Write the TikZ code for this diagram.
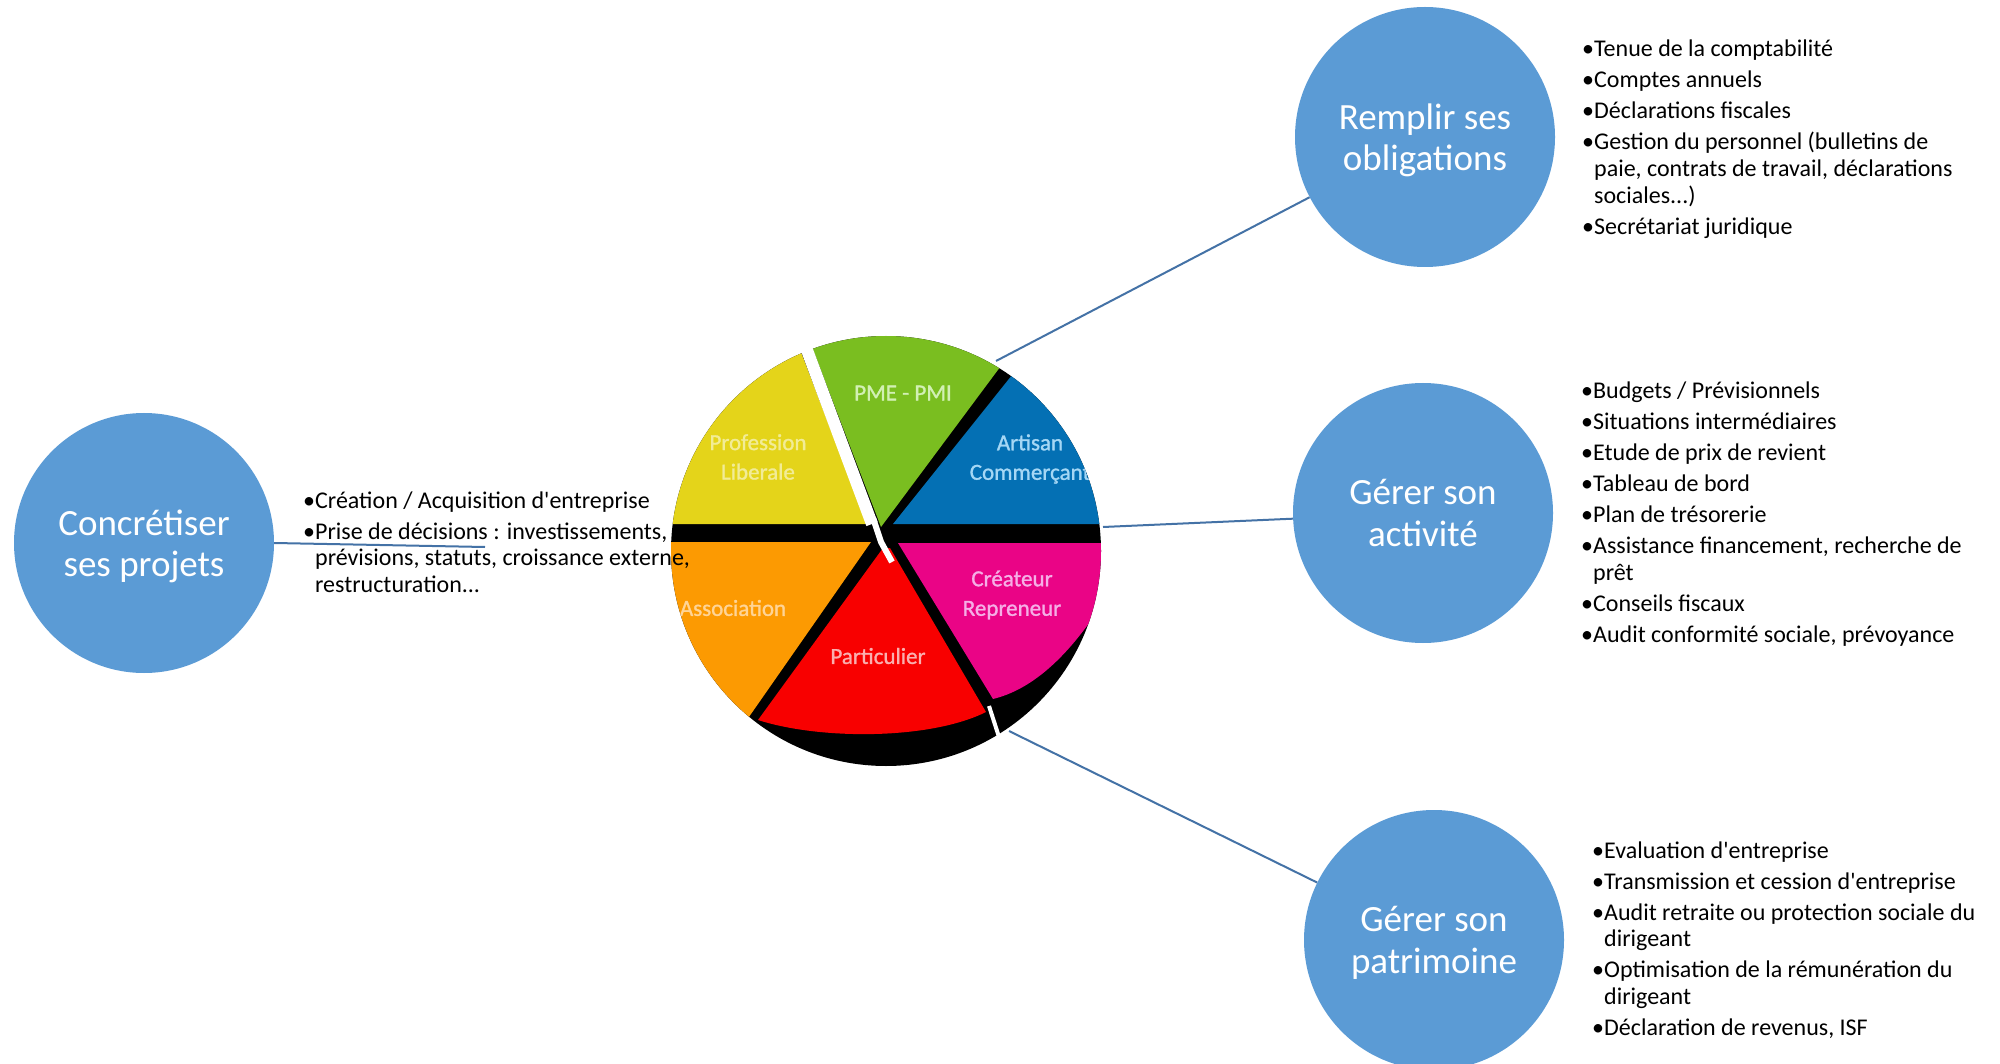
\documentclass[tikz,border=0pt]{standalone}
\usepackage{fontspec}
\setmainfont{Carlito}
\newfontfamily\calfont{Carlito}
\newfontfamily\labfont{Carlito}[FakeBold=1.2]
\definecolor{circblue}{RGB}{91,155,213}
\definecolor{linkblue}{RGB}{68,114,166}
\definecolor{pyellow}{RGB}{228,212,26}
\definecolor{pgreen}{RGB}{122,190,32}
\definecolor{pblue}{RGB}{4,112,180}
\definecolor{ppink}{RGB}{234,4,134}
\definecolor{pred}{RGB}{248,0,0}
\definecolor{porange}{RGB}{252,154,2}
\definecolor{lyellow}{RGB}{242,236,150}
\definecolor{lgreen}{RGB}{210,240,180}
\definecolor{lblue}{RGB}{165,215,245}
\definecolor{lpink}{RGB}{245,175,230}
\definecolor{lred}{RGB}{250,175,175}
\definecolor{lorange}{RGB}{255,212,150}
\newcommand\nodepth[1]{\raisebox{0pt}[\height][0pt]{#1}}
\begin{document}
\begin{tikzpicture}[x=1pt,y=-1pt,
  bigcirc/.style={circle, fill=circblue, minimum size=260pt, inner sep=0pt, text=white, align=center, font=\calfont\fontsize{37}{41.5}\selectfont},
  link/.style={draw=linkblue, line width=2pt},
  itemlist/.style={anchor=base west, inner sep=0pt, font=\calfont\fontsize{24}{26.7}\selectfont},
  slicelabel/.style={align=center, inner sep=0pt, font=\labfont\fontsize{23}{29.5}\selectfont}]
\clip (0,0) rectangle (2000,1064);
\fill[white] (0,0) rectangle (2000,1064);

% circles
\node[bigcirc] (proj)  at (144,543) {Concrétiser\\\nodepth{ses projets}};
\node[bigcirc] (oblig) at (1425,137) {Remplir ses\\\nodepth{obligations}};
\node[bigcirc] (activ) at (1423,513) {Gérer son\\\nodepth{activité}};
\node[bigcirc] (patri) at (1434,940) {Gérer son\\\nodepth{patrimoine}};

% connector end points at the pie
\coordinate (pieTL) at (996,361);
\coordinate (pieR)  at (1103,527);
\coordinate (pieBR) at (1009,731);
\coordinate (lend)  at (485,547);

\draw[link] (proj.east) -- (lend);
\draw[link] (pieTL) -- (oblig);
\draw[link] (pieR) -- (activ);
\draw[link] (pieBR) -- (patri);

% pie
\coordinate (pc) at (886,551);
\fill[black] (pc) circle[radius=215];
\begin{scope}
  \clip (pc) circle[radius=215];
  \fill[pyellow] (600,524) -- (867,524) -- (781,300) -- (600,300) -- cycle;
  \fill[pgreen] (794,300) -- (881,527) -- (1050,300) -- cycle;
  \fill[pblue] (893,524) -- (1072,300) -- (1150,300) -- (1150,524) -- cycle;
  \fill[ppink] (898,543) -- (1150,543) -- (1150,605) -- (1098,610)
     .. controls (1065,660) and (1030,690) .. (993,699) -- cycle;
  \fill[pred] (883,548) -- (890,548) -- (986,712)
     .. controls (930,740) and (820,740) .. (758,720) -- cycle;
  \fill[porange] (600,542) -- (871,542) -- (691,800) -- (600,800) -- cycle;
  \node[slicelabel, text=lgreen]  (lpme)  at (903,393) {PME - PMI};
  \node[slicelabel, text=lyellow] (lprof) at (758,457) {Profession\\Liberale};
  \node[slicelabel, text=lblue]   (lart)  at (1030,459) {Artisan\\Commerçant};
  \node[slicelabel, text=lpink]   (lcre)  at (1012,595) {Créateur\\Repreneur};
  \node[slicelabel, text=lorange] (lass)  at (733,608) {Association};
  \node[slicelabel, text=lred]    (lpar)  at (878,656) {Particulier};
\end{scope}
\draw[white, line width=12pt] (798,326) -- (872,524);
\draw[white, line width=6pt] (873,518) -- (881,542) -- (892,562);
\draw[white, line width=4pt] (989,706) -- (999,737);

% lists
\node[itemlist] (lst0) at (303,508) {\begin{tabular}[t]{@{}l@{}l@{}}
•&Création / Acquisition d'entreprise\\[4.3pt]
•&Prise de décisions : investissements,\\
&prévisions, statuts, croissance externe,\\
&restructuration...
\end{tabular}};

\node[itemlist] (lst1) at (1582,57) {\begin{tabular}[t]{@{}l@{}l@{}}
•&Tenue de la comptabilité\\[4.3pt]
•&Comptes annuels\\[4.3pt]
•&Déclarations fiscales\\[4.3pt]
•&Gestion du personnel (bulletins de\\
&paie, contrats de travail, déclarations\\
&sociales...)\\[4.3pt]
•&Secrétariat juridique
\end{tabular}};

\node[itemlist] (lst2) at (1581,399) {\begin{tabular}[t]{@{}l@{}l@{}}
•&Budgets / Prévisionnels\\[4.3pt]
•&Situations intermédiaires\\[4.3pt]
•&Etude de prix de revient\\[4.3pt]
•&Tableau de bord\\[4.3pt]
•&Plan de trésorerie\\[4.3pt]
•&Assistance financement, recherche de\\
&prêt\\[4.3pt]
•&Conseils fiscaux\\[4.3pt]
•&Audit conformité sociale, prévoyance
\end{tabular}};

\node[itemlist] (lst3) at (1592,858) {\begin{tabular}[t]{@{}l@{}l@{}}
•&Evaluation d'entreprise\\[4.3pt]
•&Transmission et cession d'entreprise\\[4.3pt]
•&Audit retraite ou protection sociale du\\
&dirigeant\\[4.3pt]
•&Optimisation de la rémunération du\\
&dirigeant\\[4.3pt]
•&Déclaration de revenus, ISF
\end{tabular}};
\end{tikzpicture}
\end{document}
